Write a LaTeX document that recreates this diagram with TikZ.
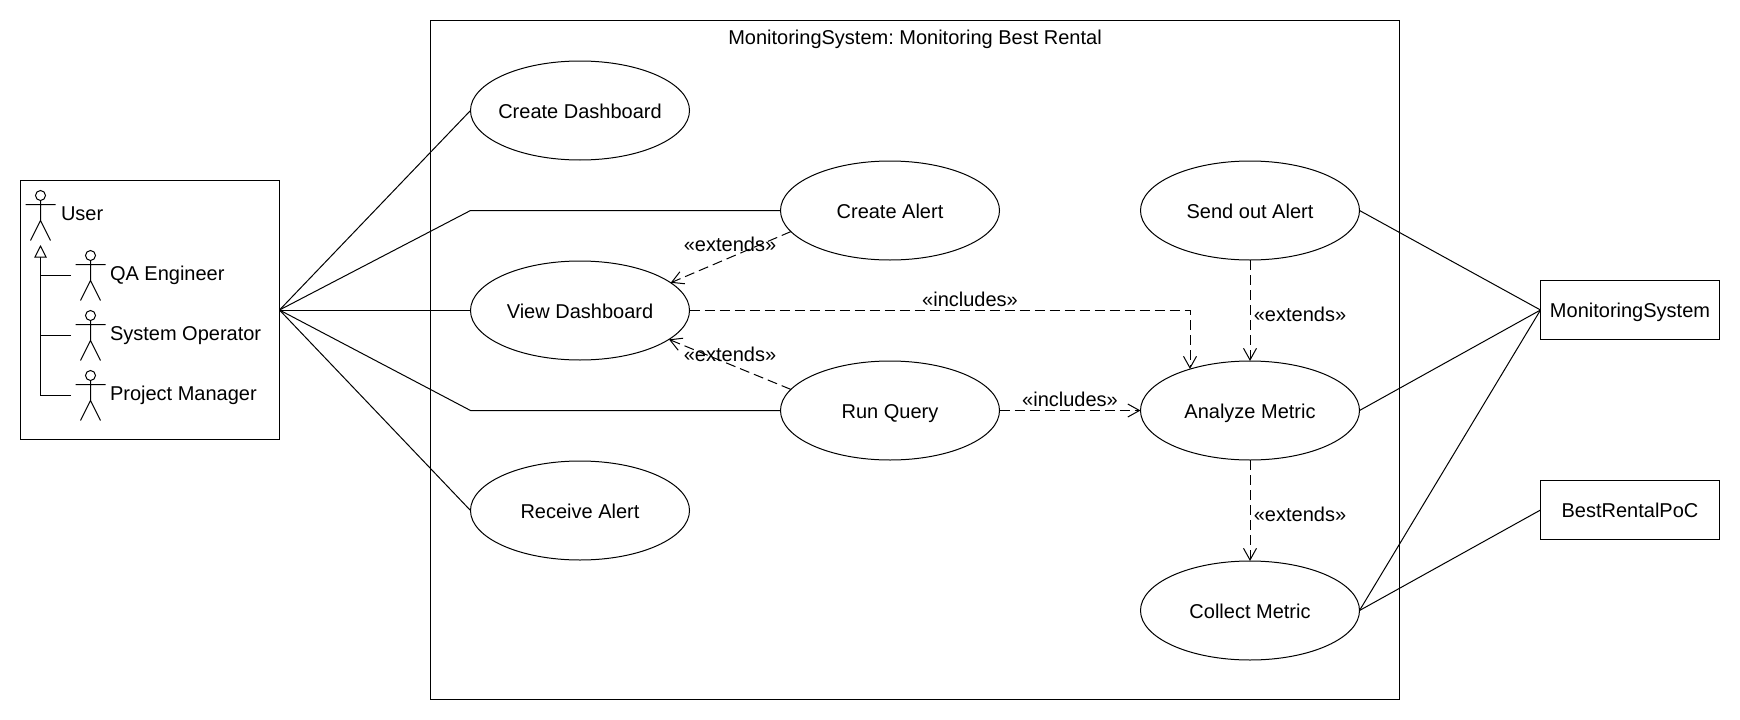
\documentclass[tikz,border=0pt]{standalone}
\usepackage{fontspec}
\setmainfont{Liberation Sans}
\usetikzlibrary{arrows.meta,shapes.geometric}
\tikzset{
  every node/.style={font=\frenchspacing\fontsize{20}{24}\selectfont,text=black,inner sep=0pt,outer sep=0pt},
  usecase/.style={ellipse,draw=black,line width=1pt,inner xsep=-30pt,minimum width=219pt,minimum height=99pt,text height=15pt,text depth=0pt},
  boxed/.style={rectangle,draw=black,line width=1pt,text height=14pt,text depth=0pt},
  frame/.style={rectangle,draw=black,line width=1pt},
  assoc/.style={draw=black,line width=1pt},
  dep/.style={draw=black,line width=1pt,dash pattern=on 10pt off 5pt,-{Straight Barb[length=11.7pt,width=13pt,line width=1pt]}},
  gen/.style={draw=black,line width=1pt,-{Triangle[open,fill=white,length=12.5pt,width=12.5pt,line width=1pt]}},
  stereo/.style={anchor=base},
  lab/.style={anchor=base west},
  pics/stickman/.style={code={
    \draw[line width=1pt] (0,5) circle (5pt);
    \draw[line width=1pt] (0,10) -- (0,30) (-15,14) -- (15,14) (-10,50) -- (0,30) -- (10,50);
  }}
}
\begin{document}
\begin{tikzpicture}[x=1pt,y=-1pt]
\useasboundingbox (0,0) rectangle (1740,720);
% frames
\node[frame,anchor=north west,minimum width=969pt,minimum height=679pt] (system) at (430.5,20) {};
\node[frame,anchor=north west,minimum width=259pt,minimum height=259pt] (actors) at (20.5,180.5) {};
\node[anchor=base] (systitle) at (915,44) {MonitoringSystem: Monitoring Best Rental};
% use cases
\node[usecase] (cd) at (580,110.5) {Create Dashboard};
\node[usecase] (vd) at (580,310.5) {View Dashboard};
\node[usecase] (ra) at (580,510.5) {Receive Alert};
\node[usecase] (ca) at (890,210.5) {Create Alert};
\node[usecase] (rq) at (890,410.5) {Run Query};
\node[usecase] (sa) at (1250,210.5) {Send out Alert};
\node[usecase] (am) at (1250,410.5) {Analyze Metric};
\node[usecase] (cm) at (1250,610.5) {Collect Metric};
% external systems
\node[boxed,minimum width=179pt,minimum height=59pt] (ms) at (1630,310) {MonitoringSystem};
\node[boxed,minimum width=179pt,minimum height=59pt] (br) at (1630,510) {BestRentalPoC};
% actors
\pic at (40.5,190.5) {stickman};
\pic at (90.5,250.5) {stickman};
\pic at (90.5,310.5) {stickman};
\pic at (90.5,370.5) {stickman};
\node[lab] (luser) at (61,220) {User};
\node[lab] (lqa) at (110,280) {QA Engineer};
\node[lab] (lso) at (110,340) {System Operator};
\node[lab] (lpm) at (110,400) {Project Manager};
% generalisation
\coordinate (genapex) at (40.5,245);
\coordinate (genqa) at (71,275.5);
\coordinate (genso) at (71,335.5);
\coordinate (genpm) at (71,395.5);
\coordinate (gencorner) at (40.5,395.5);
\draw[gen] (genpm) -- (gencorner) -- (genapex);
\draw[assoc] (genqa) -- (genqa -| gencorner);
\draw[assoc] (genso) -- (genso -| gencorner);
% associations
\draw[assoc] (actors.east) -- (cd.west);
\draw[assoc] (actors.east |- vd.west) -- (vd.west);
\draw[assoc] (actors.east) -- (ra.west);
\draw[assoc] (actors.east) -- (vd.west |- ca.west) -- (ca.west);
\draw[assoc] (actors.east) -- (vd.west |- rq.west) -- (rq.west);
\draw[assoc] (sa.east) -- (ms.west);
\draw[assoc] (am.east) -- (ms.west);
\draw[assoc] (cm.east) -- (ms.west);
\draw[assoc] (cm.east) -- (br.west);
% dependencies
\coordinate (inctip) at (1190,369);
\draw[dep] (ca.-168.4) -- (vd.17.9);
\draw[dep] (rq.168.4) -- (vd.-18.4);
\draw[dep] (vd.east) -- (inctip |- vd.east) -- (inctip);
\draw[dep] (rq.east) -- (am.west);
\draw[dep] (sa.south) -- (am.north);
\draw[dep] (am.south) -- (cm.north);
% labels
\node[stereo] (e1) at (730,251) {«extends»};
\node[stereo] (e2) at (730,361) {«extends»};
\node[stereo] (i1) at (970,306) {«includes»};
\node[stereo] (i2) at (1070,406) {«includes»};
\node[stereo] (e3) at (1300,321) {«extends»};
\node[stereo] (e4) at (1300,521) {«extends»};
\end{tikzpicture}
\end{document}
